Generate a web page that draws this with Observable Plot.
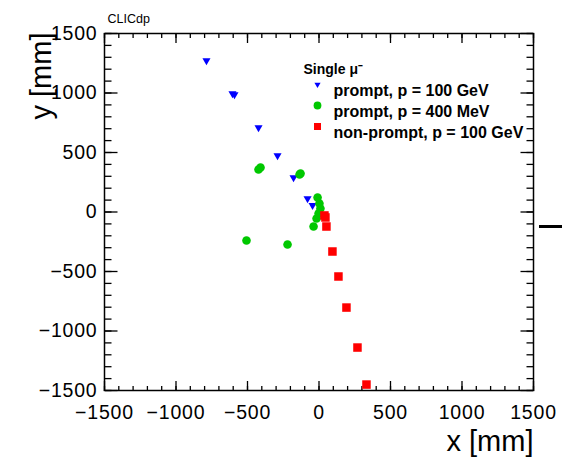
<!DOCTYPE html>
<html><head><meta charset="utf-8">
<script src="https://cdn.jsdelivr.net/npm/d3@7"></script>
<script src="https://cdn.jsdelivr.net/npm/@observablehq/plot@0.6"></script>
<style>
body{margin:0;background:#fff;}
#chart{position:relative;width:562px;height:458px;overflow:hidden;}
#chart svg{font-family:"Liberation Sans",Arial,sans-serif;}
g[aria-label="x-axis tick label"] text, g[aria-label="y-axis tick label"] text{letter-spacing:0.8px;}
.dash{position:absolute;left:539px;top:225px;width:23px;height:3px;background:#000;}
</style></head><body><div id="chart"></div>
<script>
// prompt muons, p = 100 GeV (x, y in mm)
const promptHighX = [-787, -605, -591, -423, -290, -178, -80, -45];
const promptHighY = [1273, 996, 987, 710, 475, 290, 113, 55];
// prompt muons, p = 400 MeV
const promptLowX = [-423, -409, -136, -129, -10, 3, 10, -3, -17, -38, -507, -220];
const promptLowY = [357, 374, 315, 324, 122, 71, 29, -13, -55, -122, -239, -273];
// non-prompt muons, p = 100 GeV
const nonPromptX = [38, 45, 52, 94, 136, 192, 269, 332];
const nonPromptY = [-29, -46, -122, -332, -542, -803, -1139, -1450];

const legendTitle = "Single \u03bc\u207b";
const legendLabels = ["prompt, p = 100 GeV", "prompt, p = 400 MeV", "non-prompt, p = 100 GeV"];
const seriesColors = ["#0000ff", "#00c800", "#ff0000"];
const majorTicks = [-1500, -1000, -500, 0, 500, 1000, 1500];
const minorTicks = d3.range(-1500, 1501, 100);
const xTitle = "x [mm]";
const yTitle = "y [mm]";
const tag = "CLICdp";

const triangleDown = {
  draw(context, size) {
    const s = Math.sqrt(size) * 1.5197;
    const h = s * Math.sqrt(3) / 2;
    context.moveTo(-s / 2, -h / 3);
    context.lineTo(s / 2, -h / 3);
    context.lineTo(0, 2 * h / 3);
    context.closePath();
  }
};
const symbols = [triangleDown, "circle", "square"];
const radii = [3, 4.3, 4.8];
const legendRadii = [2.3, 3.9, 3.95];

const zip = (xs, ys) => xs.map((x, i) => ({x, y: ys[i]}));
const series = [zip(promptHighX, promptHighY), zip(promptLowX, promptLowY), zip(nonPromptX, nonPromptY)];

const fmt = d => d < 0 ? "\u2212" + Math.abs(d) : String(d);
const none = () => "";

const marks = [];
// inward ticks on all four sides: the tick direction of the opposite anchor, drawn at this edge
const xEdges = [["top", "bottom"], ["bottom", "top"]];
for (const [anchor, edge] of xEdges) {
  marks.push(Plot.axisX({anchor, frameAnchor: edge, ticks: minorTicks, tickSize: 5, tickFormat: none, label: null, strokeWidth: 1.3}));
  marks.push(Plot.axisX({anchor, frameAnchor: edge, ticks: majorTicks, tickSize: 10, tickFormat: none, label: null, strokeWidth: 1.3}));
}
const yEdges = [["right", "left"], ["left", "right"]];
for (const [anchor, edge] of yEdges) {
  marks.push(Plot.axisY({anchor, frameAnchor: edge, ticks: minorTicks, tickSize: 6.5, tickFormat: none, label: null, strokeWidth: 1.3}));
  marks.push(Plot.axisY({anchor, frameAnchor: edge, ticks: majorTicks, tickSize: 12.5, tickFormat: none, label: null, strokeWidth: 1.3}));
}
// tick labels
marks.push(Plot.axisX({anchor: "bottom", ticks: majorTicks, tickSize: 0, tickPadding: 15, tickFormat: fmt, label: null, fontSize: 19.5, fill: "#000"}));
marks.push(Plot.axisY({anchor: "left", ticks: majorTicks, tickSize: 0, tickPadding: 7, tickFormat: fmt, label: null, fontSize: 19.5, fill: "#000"}));
marks.push(Plot.frame({stroke: "#000", strokeWidth: 1.5}));

// data
series.forEach((rows, i) => {
  marks.push(Plot.dot(rows, {x: "x", y: "y", symbol: symbols[i], r: radii[i], fill: seriesColors[i], stroke: "none"}));
});

// legend
marks.push(Plot.text([legendTitle], {frameAnchor: "top-left", dx: 199, dy: 31, text: d => d, textAnchor: "start", fontSize: 14, fontWeight: "bold", fill: "#000"}));
legendLabels.forEach((label, i) => {
  marks.push(Plot.dot([label], {frameAnchor: "top-left", dx: 213, dy: 51 + i * 21, symbol: symbols[i], r: legendRadii[i], fill: seriesColors[i], stroke: "none"}));
  marks.push(Plot.text([label], {frameAnchor: "top-left", dx: 229, dy: 51 + i * 21, text: d => d, textAnchor: "start", fontSize: 16, fontWeight: "bold", fill: "#000"}));
});

// titles
marks.push(Plot.text([tag], {frameAnchor: "top-left", dx: 3, dy: -19, text: d => d, textAnchor: "start", fontSize: 12.5, fill: "#000"}));
marks.push(Plot.text([xTitle], {frameAnchor: "bottom-right", dy: 60, text: d => d, textAnchor: "end", fontSize: 29, fill: "#000"}));
marks.push(Plot.text([yTitle], {frameAnchor: "top-left", dx: -74, dy: -1, rotate: -90, text: d => d, textAnchor: "end", fontSize: 29, fill: "#000"}));

const chart = Plot.plot({
  width: 562,
  height: 458,
  marginTop: 33,
  marginBottom: 68,
  marginLeft: 104,
  marginRight: 29,
  style: {background: "#fff", color: "#000", fontFamily: "Liberation Sans, Arial, sans-serif", overflow: "visible"},
  x: {domain: [-1500, 1500], axis: null},
  y: {domain: [-1500, 1500], axis: null},
  marks
});
const host = document.getElementById("chart");
host.appendChild(chart);
const dash = document.createElement("div");
dash.className = "dash";
host.appendChild(dash);
</script>
</body></html>
